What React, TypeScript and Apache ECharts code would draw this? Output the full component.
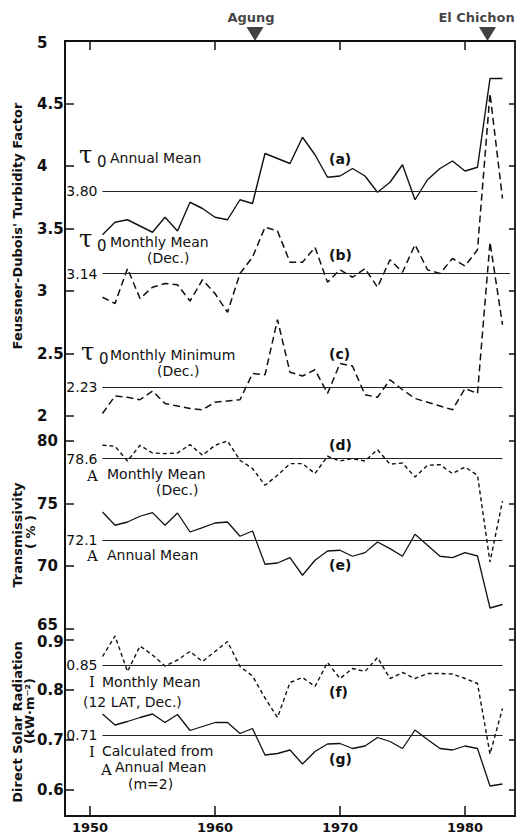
import React, { useEffect, useRef } from 'react';
import * as echarts from 'echarts';

// ---- data ----
const YEARS = [1951, 1952, 1953, 1954, 1955, 1956, 1957, 1958, 1959, 1960, 1961, 1962, 1963, 1964, 1965, 1966, 1967, 1968, 1969, 1970, 1971, 1972, 1973, 1974, 1975, 1976, 1977, 1978, 1979, 1980, 1981, 1982, 1983];

// (a) tau0 annual mean
const TAU_ANNUAL = [3.45, 3.55, 3.57, 3.52, 3.47, 3.59, 3.48, 3.71, 3.66, 3.59, 3.57, 3.73, 3.70, 4.10, 4.06, 4.02, 4.23, 4.09, 3.91, 3.92, 3.98, 3.92, 3.79, 3.87, 4.01, 3.73, 3.89, 3.98, 4.04, 3.96, 3.99, 4.70, 4.70];
// (b) tau0 monthly mean (Dec.)
const TAU_DEC_MEAN = [2.95, 2.90, 3.18, 2.94, 3.03, 3.06, 3.05, 2.92, 3.09, 2.98, 2.83, 3.14, 3.27, 3.51, 3.48, 3.23, 3.23, 3.35, 3.07, 3.17, 3.11, 3.18, 3.03, 3.25, 3.15, 3.37, 3.17, 3.14, 3.26, 3.20, 3.33, 4.58, 3.74];
// (c) tau0 monthly minimum (Dec.)
const TAU_DEC_MIN = [2.02, 2.16, 2.15, 2.13, 2.20, 2.10, 2.08, 2.06, 2.05, 2.11, 2.12, 2.13, 2.34, 2.33, 2.77, 2.35, 2.32, 2.37, 2.18, 2.42, 2.40, 2.17, 2.15, 2.29, 2.21, 2.14, 2.11, 2.08, 2.05, 2.22, 2.18, 3.39, 2.73];
// (d) transmissivity monthly mean (Dec.)
const TRANS_DEC_MEAN = [79.66, 79.58, 78.40, 79.66, 79.04, 78.99, 79.04, 79.71, 78.86, 79.66, 80.0, 78.46, 77.8, 76.46, 77.26, 78.19, 78.19, 77.39, 78.78, 78.40, 78.59, 78.40, 79.31, 78.14, 78.24, 77.12, 78.06, 78.11, 77.39, 77.92, 77.26, 70.32, 75.2];
// (e) transmissivity annual mean
const TRANS_ANNUAL = [74.32, 73.26, 73.52, 73.98, 74.27, 73.26, 74.24, 72.72, 73.07, 73.44, 73.52, 72.38, 72.80, 70.14, 70.24, 70.67, 69.26, 70.46, 71.20, 71.26, 70.78, 71.07, 71.92, 71.39, 70.78, 72.54, 71.66, 70.78, 70.67, 71.07, 70.80, 66.64, 66.92];
// (f) direct solar radiation monthly mean (12 LAT, Dec.)
const RAD_DEC_MEAN = [0.867, 0.908, 0.837, 0.888, 0.870, 0.848, 0.860, 0.877, 0.857, 0.877, 0.897, 0.847, 0.828, 0.784, 0.745, 0.815, 0.825, 0.807, 0.855, 0.823, 0.843, 0.837, 0.865, 0.823, 0.835, 0.823, 0.833, 0.833, 0.832, 0.823, 0.813, 0.672, 0.763];
// (g) direct solar radiation calculated from annual mean transmissivity
const RAD_CALC = [0.752, 0.730, 0.737, 0.745, 0.752, 0.735, 0.751, 0.719, 0.727, 0.735, 0.735, 0.713, 0.723, 0.670, 0.673, 0.680, 0.652, 0.677, 0.692, 0.693, 0.683, 0.688, 0.705, 0.697, 0.683, 0.720, 0.701, 0.683, 0.680, 0.688, 0.683, 0.608, 0.612];

// long-term mean reference lines
const MEAN_VALUES = [3.80, 3.14, 2.23, 78.6, 72.1, 0.85, 0.71];
const MEAN_LABELS = ['3.80', '3.14', '2.23', '78.6', '72.1', '0.85', '0.71'];
const MEAN_START = 1951;
const MEAN_END = [1981, 1983.6, 1983, 1983, 1983, 1983, 1983];

const X_TICKS = [1950, 1960, 1970, 1980];
const EVENT_NAMES = ['Agung', 'El Chichon'];
const EVENT_YEARS = [1963.2, 1981.8];

const INK = '#111';
const FONT = '"DejaVu Sans", sans-serif';
const SERIF = '"DejaVu Serif", serif';

function pairs(vals: number[]) {
  return YEARS.map((y, i) => [y, vals[i]]);
}

function meanLine(i: number) {
  return {
    silent: true,
    symbol: ['none', 'none'],
    animation: false,
    lineStyle: { color: '#222', width: 1, type: 'solid' },
    label: {
      show: true,
      position: 'start',
      distance: 5,
      formatter: MEAN_LABELS[i],
      color: INK,
      fontFamily: FONT,
      fontSize: 14,
    },
    data: [[{ coord: [MEAN_START, MEAN_VALUES[i]] }, { coord: [MEAN_END[i], MEAN_VALUES[i]] }]],
  };
}

function lineSeries(name: string, vals: number[], xi: number, yi: number, dash: any, width: number, meanIdx: number) {
  return {
    name,
    type: 'line',
    xAxisIndex: xi,
    yAxisIndex: yi,
    data: pairs(vals),
    showSymbol: false,
    symbol: 'none',
    clip: false,
    lineStyle: { color: INK, width, type: dash },
    markLine: meanLine(meanIdx),
  };
}

const LEFT = 65;
const WIDTH = 450;

function yAxisPair(gridIndex: number, min: number, max: number, interval: number, formatter?: any) {
  const common = { type: 'value', gridIndex, min, max, interval, splitLine: { show: false }, axisLine: { show: false } };
  return [
    {
      ...common,
      position: 'left',
      axisTick: { show: true, inside: true, length: 9, lineStyle: { color: INK, width: 1.5 } },
      axisLabel: {
        show: true, align: 'left', margin: 28, color: INK, fontFamily: FONT, fontWeight: 'bold', fontSize: 15,
        formatter,
        rich: {
          up: { fontFamily: FONT, fontWeight: 'bold', fontSize: 15, color: INK, padding: [0, 0, 7, 0] },
          dn: { fontFamily: FONT, fontWeight: 'bold', fontSize: 15, color: INK, padding: [4, 0, 0, 0] },
        },
      },
    },
    {
      ...common,
      position: 'right',
      axisTick: { show: true, inside: true, length: 6, lineStyle: { color: INK, width: 1.5 } },
      axisLabel: { show: false },
    },
  ];
}

function txt(text: string, x: number, y: number, font: string, center = false) {
  return {
    type: 'text',
    x,
    y,
    silent: true,
    style: {
      text,
      font,
      fill: INK,
      textAlign: center ? 'center' : 'left',
      align: center ? 'center' : 'left',
      textVerticalAlign: 'middle',
      verticalAlign: 'middle',
    },
  };
}

function rot(text: string, x: number, y: number, font: string) {
  const t: any = txt(text, x, y, font, true);
  t.rotation = Math.PI / 2;
  return t;
}

export default function App() {
  const ref = useRef<HTMLDivElement>(null);
  useEffect(() => {
    if (!ref.current) return;
    const chart = echarts.init(ref.current, null, { renderer: 'svg' });
    const ann = `14px ${FONT}`;
    const tau = `24px ${SERIF}`;
    const sub = `15px ${FONT}`;
    const sym = `15px ${SERIF}`;
    const tag = `bold 14px ${FONT}`;
    const title = `bold 13px ${FONT}`;
    const graphics: any[] = [
      rot("Feussner-Dubois' Turbidity Factor", 17, 226, title),
      rot('Transmissivity', 17, 535, title),
      rot('( % )', 30, 532, title),
      rot('Direct Solar Radiation', 17, 722, title),
      rot('(kW·m⁻²)', 29, 711, title),
      // panel 1 annotations
      txt('τ', 79, 155, tau), txt('0', 97, 162, sub), txt('Annual Mean', 110, 158, ann),
      txt('τ', 79, 239, tau), txt('0', 97, 246, sub), txt('Monthly Mean', 110, 242, ann), txt('(Dec.)', 147, 258, ann),
      txt('τ', 81, 352, tau), txt('0', 99, 359, sub), txt('Monthly Minimum', 110, 355, ann), txt('(Dec.)', 157, 371, ann),
      txt('(a)', 329, 159, tag), txt('(b)', 329, 255, tag), txt('(c)', 329, 354, tag),
      // panel 2
      txt('(d)', 329, 445, tag), txt('(e)', 329, 565, tag),
      txt('A', 87, 476, sym), txt('Monthly Mean', 107, 474, ann), txt('(Dec.)', 156, 490, ann),
      txt('A', 87, 556, sym), txt('Annual Mean', 107, 555, ann),
      // panel 3
      txt('(f)', 329, 692, tag), txt('(g)', 329, 759, tag),
      txt('I', 89, 682, sym), txt('Monthly Mean', 102, 682, ann), txt('(12 LAT, Dec.)', 83, 702, ann),
      txt('I', 89, 752, sym), txt('Calculated from', 102, 751, ann),
      txt('A', 101, 770, sym), txt('Annual Mean', 115, 767, ann), txt('(m=2)', 128, 784, ann),
    ];

    const hiddenX = (gridIndex: number) => ({ type: 'value', gridIndex, min: 1948, max: 1984, show: false });

    const option: any = {
      animation: false,
      backgroundColor: '#fff',
      grid: [
        { left: LEFT, top: 41, width: WIDTH, height: 776, show: true, borderColor: INK, borderWidth: 1.8, backgroundColor: 'transparent' },
        { left: LEFT, top: 41, width: WIDTH, height: 375 },
        { left: LEFT, top: 441, width: WIDTH, height: 187.5 },
        { left: LEFT, top: 640, width: WIDTH, height: 150 },
      ],
      xAxis: [
        {
          type: 'value', gridIndex: 0, min: 1948, max: 1984, position: 'bottom',
          splitLine: { show: false }, axisLine: { show: false },
          axisTick: { show: true, inside: true, length: 10, customValues: X_TICKS, lineStyle: { color: INK, width: 1.5 } },
          axisLabel: {
            show: true, customValues: X_TICKS, margin: 5, color: INK, fontFamily: FONT, fontWeight: 'bold', fontSize: 13,
            formatter: (v: number) => String(v),
          },
        },
        {
          type: 'value', gridIndex: 0, min: 1948, max: 1984, position: 'top',
          splitLine: { show: false }, axisLine: { show: false },
          axisTick: { show: true, inside: true, length: 9, customValues: X_TICKS, lineStyle: { color: INK, width: 1.5 } },
          axisLabel: { show: false },
        },
        hiddenX(1),
        hiddenX(2),
        hiddenX(3),
      ],
      yAxis: [
        {
          type: 'value', gridIndex: 0, min: 0, max: 1, position: 'left',
          splitLine: { show: false }, axisTick: { show: false }, axisLabel: { show: false },
          axisLine: { show: true, lineStyle: { color: INK, width: 1.8 } },
        },
        ...yAxisPair(1, 2, 5, 0.5, (v: number) => (v === 5 ? '{dn|5}' : String(v))),
        ...yAxisPair(2, 65, 80, 5, (v: number) => (v === 65 ? '{up|65}' : String(v))),
        ...yAxisPair(3, 0.6, 0.9, 0.1, (v: number) => (Math.abs(v - 0.9) < 1e-6 ? '{dn|0.9}' : String(Math.round(v * 10) / 10))),
      ],
      series: [
        lineSeries('a', TAU_ANNUAL, 2, 1, 'solid', 1.4, 0),
        lineSeries('b', TAU_DEC_MEAN, 2, 1, [7, 4], 1.5, 1),
        lineSeries('c', TAU_DEC_MIN, 2, 1, [7, 4], 1.5, 2),
        lineSeries('d', TRANS_DEC_MEAN, 3, 3, [4, 3], 1.4, 3),
        lineSeries('e', TRANS_ANNUAL, 3, 3, 'solid', 1.3, 4),
        lineSeries('f', RAD_DEC_MEAN, 4, 5, [4, 3], 1.4, 5),
        lineSeries('g', RAD_CALC, 4, 5, 'solid', 1.3, 6),
        {
          type: 'scatter',
          xAxisIndex: 0,
          yAxisIndex: 0,
          clip: false,
          symbol: 'triangle',
          symbolSize: [17, 14],
          symbolRotate: 180,
          symbolOffset: [0, -7],
          itemStyle: { color: INK },
          label: {
            show: true,
            position: 'top',
            distance: 3,
            color: INK,
            fontFamily: FONT,
            fontWeight: 'bold',
            fontSize: 13,
            formatter: (p: any) => p.name,
          },
          data: EVENT_NAMES.map((n, i) => ({ name: n, value: [EVENT_YEARS[i], 1], label: { offset: [i === 0 ? -4 : -11, 0] } })),
        },
      ],
      graphic: graphics,
    };
    chart.setOption(option);
    return () => chart.dispose();
  }, []);
  return <div ref={ref} style={{ position: 'absolute', left: 0, top: 0, width: 519, height: 834, background: '#fff' }} />;
}
